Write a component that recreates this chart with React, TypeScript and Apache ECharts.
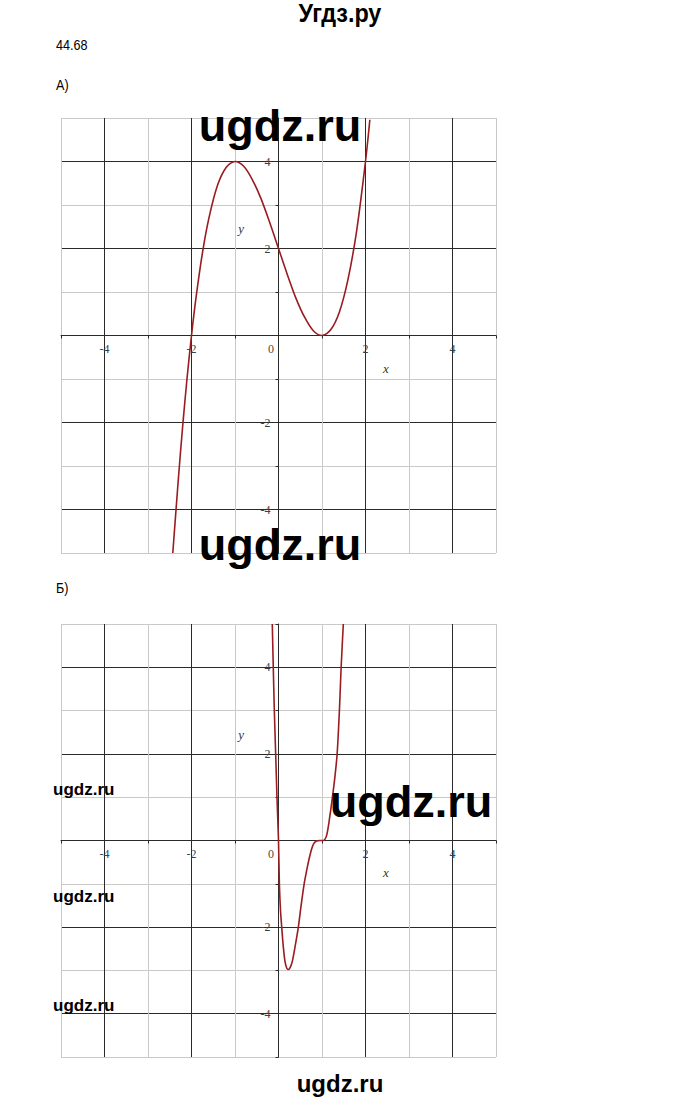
import React, { useEffect, useRef } from "react";
import * as echarts from "echarts";

// ---- data ----
const axisMin = -5;
const axisMax = 5;
const labelTicks = [-4, -2, 2, 4];

// А) curve points [x, y]
const curveA: number[][] = [
  [-2.43, -5.0], [-2.3, -3.27], [-2.2, -2.05], [-2.1, -0.96], [-2.0, 0.0],
  [-1.9, 0.84], [-1.75, 1.89], [-1.6, 2.7], [-1.4, 3.46], [-1.2, 3.87],
  [-1.0, 4.0], [-0.8, 3.89], [-0.6, 3.58], [-0.4, 3.14], [-0.2, 2.59],
  [0.0, 2.0], [0.2, 1.41], [0.4, 0.86], [0.6, 0.42], [0.8, 0.11],
  [1.0, 0.0], [1.2, 0.13], [1.4, 0.54], [1.6, 1.3], [1.8, 2.43],
  [2.0, 4.0], [2.1, 4.96],
];

// Б) curve points [x, y]
const curveB: number[][] = [
  [-0.143, 5.0], [-0.12, 4.0], [-0.096, 3.0], [-0.065, 2.0], [-0.035, 1.0],
  [0.0, 0.0], [0.02, -1.0], [0.045, -1.6], [0.074, -2.0], [0.11, -2.45],
  [0.15, -2.8], [0.19, -2.95], [0.226, -2.98], [0.27, -2.93], [0.32, -2.78],
  [0.39, -2.4], [0.456, -2.0], [0.52, -1.5], [0.59, -1.0], [0.65, -0.68],
  [0.7, -0.44], [0.76, -0.2], [0.81, -0.07], [0.87, -0.01], [0.95, 0.0],
  [1.03, 0.0], [1.07, 0.03], [1.11, 0.13], [1.16, 0.42], [1.24, 1.0],
  [1.3, 1.5], [1.348, 2.0], [1.4, 3.0], [1.44, 4.0], [1.49, 5.0],
];

const axisNameX = [2.47, -0.75];
const axisNameY = [-0.86, 2.45];

const CURVE = "#991c20";
const DARK = "#2a2a2a";
const LIGHT = "#c9c9c9";
const LABEL = "#35434e";
const SERIF = "'Liberation Serif', 'DejaVu Serif', serif";
const SANS = "'Liberation Sans', Arial, sans-serif";

function makeX(gridIndex: number, plotH: number) {
  return {
    type: "value",
    gridIndex,
    position: "bottom",
    offset: -plotH / 2,
    min: axisMin,
    max: axisMax,
    interval: 1,
    axisLine: { onZero: false, lineStyle: { color: DARK, width: 1 } },
    axisTick: { show: true, length: 3, lineStyle: { color: DARK } },
    axisLabel: {
      margin: 7,
      fontFamily: SERIF,
      fontSize: 12,
      color: LABEL,
      formatter: (v: number) => {
        if (v === 0) return "{z|0}";
        return labelTicks.includes(v) ? String(v) : "";
      },
      rich: { z: { padding: [0, 15, 0, 0], fontFamily: SERIF, fontSize: 12, color: "#5a4a3a" } },
    },
    splitLine: { show: true, lineStyle: { color: [LIGHT, DARK], width: 1 } },
  };
}

function makeY(gridIndex: number, plotW: number) {
  return {
    type: "value",
    gridIndex,
    position: "left",
    offset: -plotW / 2,
    min: axisMin,
    max: axisMax,
    interval: 1,
    axisLine: { onZero: false, lineStyle: { color: DARK, width: 1 } },
    axisTick: { show: true, length: 3, lineStyle: { color: DARK } },
    axisLabel: {
      margin: 8,
      fontFamily: SERIF,
      fontSize: 12,
      color: LABEL,
      formatter: (v: number) => (labelTicks.includes(v) ? String(v) : ""),
    },
    splitLine: { show: true, lineStyle: { color: [LIGHT, DARK], width: 1 } },
  };
}

function curveSeries(data: number[][], idx: number) {
  return {
    type: "line",
    xAxisIndex: idx,
    yAxisIndex: idx,
    data,
    showSymbol: false,
    smooth: 0.3,
    clip: true,
    lineStyle: { color: CURVE, width: 1.6 },
    z: 5,
  };
}

export default function App() {
  const ref = useRef<HTMLDivElement>(null);
  useEffect(() => {
    if (!ref.current) return;
    const chart = echarts.init(ref.current, undefined, { renderer: "svg" });
    chart.setOption({
      animation: false,
      backgroundColor: "#ffffff",
      grid: [
        { left: 61, top: 118, width: 435, height: 435 },
        { left: 61, top: 624, width: 435, height: 433 },
      ],
      xAxis: [makeX(0, 435), makeX(1, 433)],
      yAxis: [makeY(0, 435), makeY(1, 435)],
      series: [curveSeries(curveA, 0), curveSeries(curveB, 1)],
    });

    const nameText = (g: number, pt: number[], txt: string) => {
      const p = chart.convertToPixel({ gridIndex: g }, pt) as number[];
      return {
        type: "text",
        x: p[0],
        y: p[1],
        z: 10,
        style: {
          text: txt,
          fontFamily: SERIF,
          fontStyle: "italic",
          fontSize: 13,
          fill: "#333",
          align: "center",
          verticalAlign: "middle",
        },
      };
    };

    const txt = (text: string, x: number, y: number, size: number, bold: boolean, align = "left", scaleX = 1) => ({
      type: "text",
      x,
      y,
      scaleX,
      z: 20,
      style: {
        text,
        fontFamily: SANS,
        fontWeight: bold ? "bold" : "normal",
        fontSize: size,
        fill: "#000",
        align,
        verticalAlign: "middle",
      },
    });

    chart.setOption({
      graphic: [
        txt("Угдз.ру", 340, 13, 26, true, "center", 0.9),
        txt("44.68", 56, 45, 14, false, "left", 0.9),
        txt("А)", 56, 85, 14, false, "left", 0.9),
        txt("Б)", 56, 588, 14, false, "left", 0.9),
        nameText(0, axisNameX, "x"),
        nameText(0, axisNameY, "y"),
        nameText(1, axisNameX, "x"),
        nameText(1, axisNameY, "y"),
        txt("ugdz.ru", 280, 125, 45, true, "center"),
        txt("ugdz.ru", 280, 544, 45, true, "center"),
        txt("ugdz.ru", 411, 801, 45, true, "center"),
        txt("ugdz.ru", 53, 789, 17, true, "left"),
        txt("ugdz.ru", 53, 896, 17, true, "left"),
        txt("ugdz.ru", 53, 1005, 17, true, "left"),
        txt("ugdz.ru", 340, 1083, 24, true, "center"),
      ],
    });
    return () => chart.dispose();
  }, []);
  return (
    <div
      ref={ref}
      style={{ position: "absolute", left: 0, top: 0, width: 680, height: 1103, background: "#fff" }}
    />
  );
}
